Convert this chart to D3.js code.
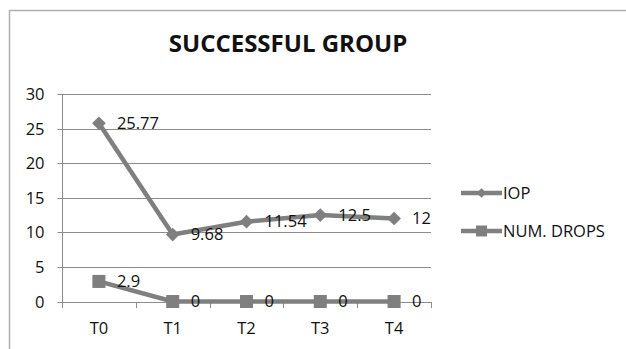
<!DOCTYPE html>
<html>
<head>
<meta charset="utf-8">
<script src="https://cdn.jsdelivr.net/npm/d3@7"></script>
<style>
  body { margin: 0; background: #fff; }
  svg { display: block; font-family: "Open Sans", sans-serif; }
</style>
</head>
<body>
<div id="chart"></div>
<script>
// data
const categories = ['T0', 'T1', 'T2', 'T3', 'T4'];
const iopValues = [25.77, 9.68, 11.54, 12.5, 12];
const dropValues = [2.9, 0, 0, 0, 0];
const yTicks = [0, 5, 10, 15, 20, 25, 30];
const seriesNames = ['IOP', 'NUM. DROPS'];

const W = 626, H = 349;
const margin = {t:94, r:195, b:47.5, l:62};
const lineColor = '#7f7f7f';
const fs = '16.5px';

const svg = d3.select('#chart')
	.append('svg')
	.attr('width', W)
	.attr('height', H);

// outer frame (only top + left visible)
svg.append('path')
	.attr('d', `M9.5,${H} V10.5 H${W}`)
	.attr('fill', 'none')
	.attr('stroke', '#b0b0b0')
	.attr('stroke-width', 1.5);

// title
svg.append('text')
	.attr('x', 288)
	.attr('y', 52)
	.attr('text-anchor', 'middle')
	.style('font-size', '24px')
	.style('font-weight', 'bold')
	.style('fill', '#111')
	.text('SUCCESSFUL GROUP');

const x = d3.scaleBand()
	.domain(categories)
	.range([margin.l, W - margin.r]);

const y = d3.scaleLinear()
	.domain([0, 30])
	.range([H - margin.b, margin.t]);

//gridlines
svg.append('g')
	.selectAll('line')
	.data(yTicks)
	.enter()
	.append('line')
	.attr('x1', margin.l)
	.attr('x2', W - margin.r)
	.attr('y1', d => Math.round(y(d)) + 0.5)
	.attr('y2', d => Math.round(y(d)) + 0.5)
	.attr('stroke', '#8c8c8c')
	.attr('stroke-width', 1);

//y axis
const yAxis = svg.append('g')
	.attr('transform', `translate(${margin.l + 0.5}, 0.5)`)
	.call(d3.axisLeft(y).tickValues(yTicks).tickSize(5).tickPadding(13));
yAxis.select('.domain').attr('stroke', '#8c8c8c').attr('d', `M0,${Math.round(y(0))}V${Math.round(y(30))}`);
yAxis.selectAll('.tick line').attr('stroke', '#8c8c8c');
yAxis.selectAll('.tick').attr('transform', d => `translate(0,${Math.round(y(d))})`);
yAxis.selectAll('text')
	.style('font-size', fs)
	.style('font-family', '"Open Sans", sans-serif')
	.style('fill', '#111');

//x axis
const boundaries = categories.map(c => x(c)).concat([x.range()[1]]);
const xg = svg.append('g');
xg.selectAll('line')
	.data(boundaries)
	.enter()
	.append('line')
	.attr('x1', d => Math.round(d) + 0.5)
	.attr('x2', d => Math.round(d) + 0.5)
	.attr('y1', Math.round(y(0)))
	.attr('y2', Math.round(y(0)) + 6)
	.attr('stroke', '#8c8c8c');
xg.selectAll('text')
	.data(categories)
	.enter()
	.append('text')
	.attr('x', d => x(d) + x.bandwidth()/2)
	.attr('y', 334)
	.attr('text-anchor', 'middle')
	.style('font-size', fs)
	.style('fill', '#111')
	.text(d => d);

const cx = d => x(d) + x.bandwidth()/2;
const line = d3.line()
	.x((d, i) => cx(categories[i]))
	.y(d => y(d));

const diamond = d3.symbol().type(d3.symbolDiamond2).size(120);
const square = d3.symbol().type(d3.symbolSquare).size(170);

[ {vals: iopValues, sym: diamond}, {vals: dropValues, sym: square} ].forEach(s => {
	svg.append('path')
		.datum(s.vals)
		.attr('d', line)
		.attr('fill', 'none')
		.attr('stroke', lineColor)
		.attr('stroke-width', 4.5)
		.attr('stroke-linejoin', 'round');

	svg.append('g')
		.selectAll('path')
		.data(s.vals)
		.enter()
		.append('path')
		.attr('transform', (d, i) => `translate(${cx(categories[i])},${y(d)})`)
		.attr('d', s.sym)
		.attr('fill', lineColor);

	svg.append('g')
		.selectAll('text')
		.data(s.vals)
		.enter()
		.append('text')
		.attr('x', (d, i) => cx(categories[i]) + 18)
		.attr('y', d => y(d))
		.attr('dy', '0.35em')
		.style('font-size', fs)
		.style('fill', '#111')
		.text(d => d);
});

//legend
const legendSyms = [d3.symbol().type(d3.symbolDiamond2).size(60), d3.symbol().type(d3.symbolSquare).size(120)];
const legend = svg.append('g')
	.selectAll('g')
	.data(seriesNames)
	.enter()
	.append('g')
	.attr('transform', (d, i) => `translate(461, ${193 + i*38})`);

legend.append('line')
	.attr('x1', 0)
	.attr('x2', 41)
	.attr('stroke', lineColor)
	.attr('stroke-width', 4.5);
legend.append('path')
	.attr('transform', 'translate(20.5,0)')
	.attr('d', (d, i) => legendSyms[i]())
	.attr('fill', lineColor);
legend.append('text')
	.attr('x', 42)
	.attr('dy', '0.35em')
	.style('font-size', fs)
	.style('fill', '#111')
	.text(d => d);
</script>
</body>
</html>
